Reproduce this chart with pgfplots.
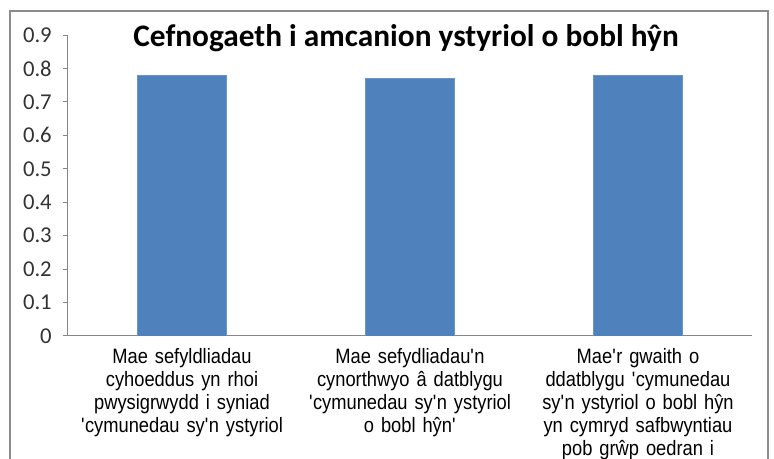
\documentclass[border=0pt]{standalone}
\usepackage{fontspec}
\setmainfont{Liberation Sans}
\newfontfamily\labfont{Liberation Sans}[FakeStretch=0.88]
\newfontfamily\carlito{Carlito}
\usepackage{pgfplots}
\pgfplotsset{compat=1.18}
\definecolor{barblue}{HTML}{4F81BD}
\definecolor{axisgray}{HTML}{868686}
\definecolor{framegray}{HTML}{8C8C8C}
\newcommand\q{\textquotesingle}
\begin{document}
\begin{tikzpicture}[x=0.75pt,y=0.75pt]
\useasboundingbox (-68,336) rectangle (706,-123);
\clip (-68,336) rectangle (706,-123);
\draw[framegray, line width=1.1pt] (-58,325) rectangle (700,-160);
\begin{axis}[
  at={(0,0)}, anchor=south west,
  scale only axis,
  width=513pt, height=225.75pt,
  xmin=-0.5, xmax=2.5,
  ymin=0, ymax=0.9,
  axis lines*=left,
  axis line style={axisgray, line width=0.75pt},
  ytick={0,0.1,0.2,0.3,0.4,0.5,0.6,0.7,0.8,0.9},
  yticklabel style={font=\carlito\fontsize{17}{20}\selectfont, text=black!80, inner sep=0pt, xshift=-8.25pt},
  /pgf/number format/.cd, fixed, precision=1, assume math mode=true, /pgfplots/.cd,
  ytick style={axisgray, line width=0.75pt},
  tick align=outside,
  major tick length=3.75pt,
  xtick={0,1,2},
  xtick style={draw=none},
  xticklabels={
    {Mae sefyldliadau\\cyhoeddus yn rhoi\\pwysigrwydd i syniad\\\q cymunedau sy\q n ystyriol},
    {Mae sefydliadau\q n\\cynorthwyo â datblygu\\\q cymunedau sy\q n ystyriol\\o bobl hŷn\q},
    {Mae\q r gwaith o\\ddatblygu \q cymunedau\\sy\q n ystyriol o bobl hŷn\\yn cymryd safbwyntiau\\pob grŵp oedran i}
  },
  xticklabel style={font=\labfont\fontsize{15.6}{17.25}\selectfont, text width=170pt, align=center, anchor=north, inner sep=0pt, yshift=-5pt},
  bar width=0.39,
]
\addplot[ybar, fill=barblue, draw=barblue!85!white] coordinates {(0,0.78) (1,0.77) (2,0.78)};
\draw[axisgray, line width=0.75pt] (axis cs:0.5,0) -- ++(0pt,-3.75pt);
\draw[axisgray, line width=0.75pt] (axis cs:1.5,0) -- ++(0pt,-3.75pt);
\end{axis}
\node[font=\carlito\bfseries\fontsize{23.5}{28}\selectfont] at (338,298) {Cefnogaeth i amcanion ystyriol o bobl hŷn};
\end{tikzpicture}
\end{document}
